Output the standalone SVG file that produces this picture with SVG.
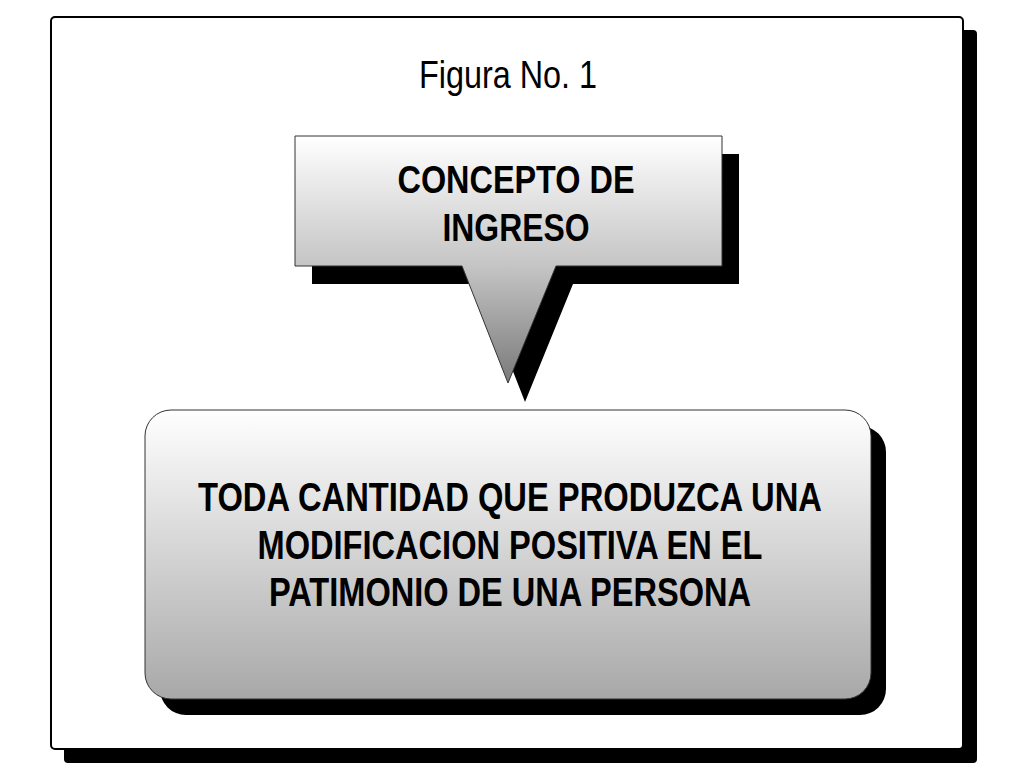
<svg xmlns="http://www.w3.org/2000/svg" width="1024" height="768" viewBox="0 0 1024 768">
<defs>
<linearGradient id="gCall" x1="0" y1="0" x2="0" y2="1">
<stop offset="0" stop-color="#ffffff"/>
<stop offset="0.53" stop-color="#c4c4c4"/>
<stop offset="1" stop-color="#7a7a7a"/>
</linearGradient>
<linearGradient id="gBox" x1="0" y1="0" x2="0" y2="1">
<stop offset="0" stop-color="#ffffff"/>
<stop offset="1" stop-color="#a8a8a8"/>
</linearGradient>
<style>
.bold{font-family:"Liberation Sans",Arial,sans-serif;font-weight:bold;fill:#000;}
.reg{font-family:"Liberation Sans",Arial,sans-serif;fill:#000;}
</style>
</defs>
<rect width="1024" height="768" fill="#ffffff"/>
<g id="frame">
<rect x="64" y="30" width="913" height="733" rx="4" fill="#000"/>
<rect x="51" y="17" width="912" height="732" rx="4" fill="#ffffff" stroke="#000" stroke-width="2"/>
<text class="reg" x="508" y="88" font-size="38" text-anchor="middle" textLength="178" lengthAdjust="spacingAndGlyphs">Figura No. 1</text>
</g>
<g id="concepto">
<path d="M312,154 H739 V284 H573 L525,402 L479,284 H312 Z" fill="#000"/>
<path d="M295,136 H722 V266 H556 L508,383 L462,266 H295 Z" fill="url(#gCall)" stroke="#333" stroke-width="1"/>
<text class="bold" x="516" y="193" font-size="38" text-anchor="middle" textLength="237" lengthAdjust="spacingAndGlyphs">CONCEPTO DE</text>
<text class="bold" x="516" y="241" font-size="38" text-anchor="middle" textLength="147" lengthAdjust="spacingAndGlyphs">INGRESO</text>
</g>
<g id="connectors"></g>
<g id="definicion">
<rect x="160" y="426" width="726" height="289" rx="26" fill="#000"/>
<rect x="145" y="410" width="726" height="289" rx="26" fill="url(#gBox)" stroke="#333" stroke-width="1"/>
<text class="bold" x="510" y="511" font-size="41" text-anchor="middle" textLength="624" lengthAdjust="spacingAndGlyphs">TODA CANTIDAD QUE PRODUZCA UNA</text>
<text class="bold" x="510" y="559" font-size="41" text-anchor="middle" textLength="505" lengthAdjust="spacingAndGlyphs">MODIFICACION POSITIVA EN EL</text>
<text class="bold" x="510" y="606" font-size="41" text-anchor="middle" textLength="482" lengthAdjust="spacingAndGlyphs">PATIMONIO DE UNA PERSONA</text>
</g>
</svg>
